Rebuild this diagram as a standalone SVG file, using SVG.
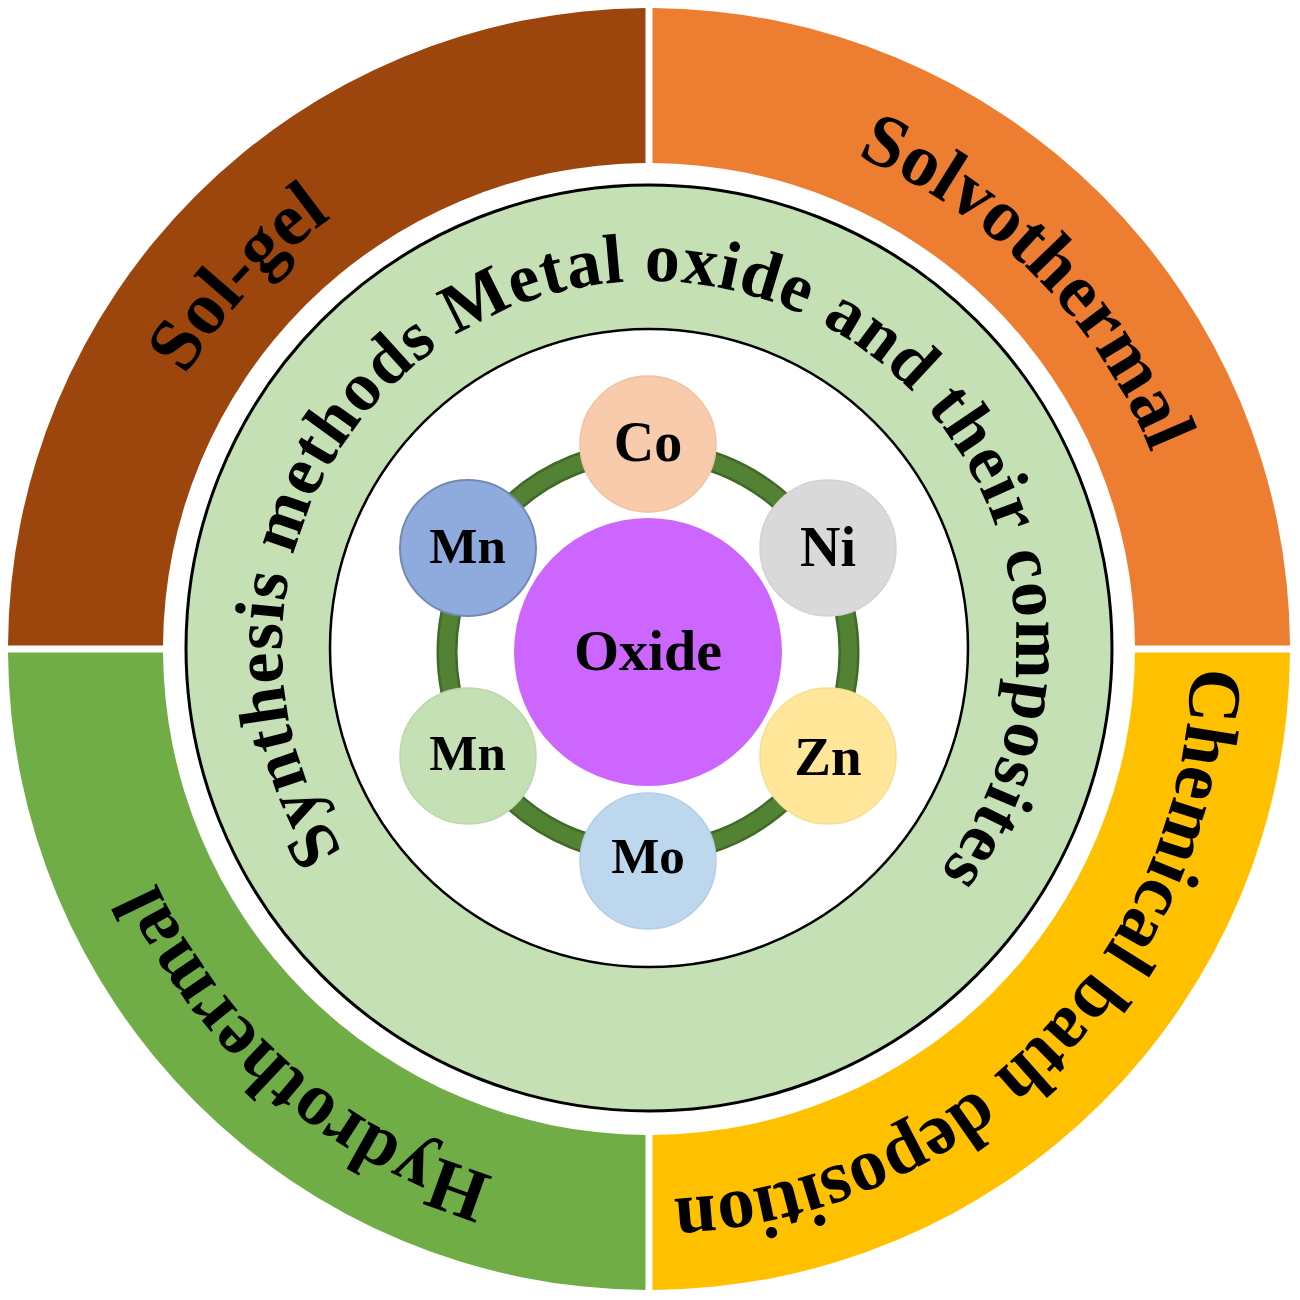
<svg xmlns="http://www.w3.org/2000/svg" xmlns:xlink="http://www.w3.org/1999/xlink" width="1300" height="1300" viewBox="0 0 1300 1300">
<style>
  .t { font-family: "Liberation Serif", "Times New Roman", serif; font-weight: bold; fill: #000; }
  .outer { font-size: 75px; }
  .inner { font-size: 70px; letter-spacing: 1.1px; }
  .lbl { text-anchor: middle; }
</style>
<defs>
  <path id="outerArc" d="M649,1199 A542,542 0 1 1 649,115 A542,542 0 1 1 649,1199"/>
  <path id="innerArc" d="M649,1015 A367,367 0 1 1 649,281 A367,367 0 1 1 649,1015"/>
</defs>
<rect width="1300" height="1300" fill="#ffffff"/>

<g id="sol-gel">
  <path d="M8,645.5 A641,641 0 0 1 645.5,8 L645.5,163 A486,486 0 0 0 163,645.5 Z" fill="#9C460D"/>
  <text class="t outer" transform="rotate(-47.3 649 657)"><textPath xlink:href="#outerArc" href="#outerArc" startOffset="50%" text-anchor="middle">Sol-gel</textPath></text>
</g>
<g id="solvothermal">
  <path d="M652.5,8 A641,641 0 0 1 1290,645.5 L1135,645.5 A486,486 0 0 0 652.5,163 Z" fill="#ED7D31"/>
  <text class="t outer" transform="rotate(45.2 649 657)"><textPath xlink:href="#outerArc" href="#outerArc" startOffset="50%" text-anchor="middle">Solvothermal</textPath></text>
</g>
<g id="chemical-bath">
  <path d="M1290,652.5 A641,641 0 0 1 652.5,1290 L652.5,1135 A486,486 0 0 0 1135,652.5 Z" fill="#FFC000"/>
  <text class="t outer" transform="rotate(134.25 649 657)"><textPath xlink:href="#outerArc" href="#outerArc" startOffset="50%" text-anchor="middle">Chemical bath deposition</textPath></text>
</g>
<g id="hydrothermal">
  <path d="M645.5,1290 A641,641 0 0 1 8,652.5 L163,652.5 A486,486 0 0 0 645.5,1135 Z" fill="#70AD47"/>
  <text class="t outer" transform="rotate(-138.95 649 657)"><textPath xlink:href="#outerArc" href="#outerArc" startOffset="50%" text-anchor="middle">Hydrothermal</textPath></text>
</g>

<g id="synthesis-ring">
  <circle cx="649" cy="648" r="463" fill="#C5E0B4" stroke="#000" stroke-width="3"/>
  <circle cx="649" cy="648" r="319" fill="#ffffff" stroke="#000" stroke-width="2.5"/>
  <text class="t inner" transform="rotate(2.05 649 648)"><textPath xlink:href="#innerArc" href="#innerArc" startOffset="50%" text-anchor="middle">Synthesis methods Metal oxide and their composites</textPath></text>
</g>

<g id="connectors">
  <circle cx="648" cy="652" r="201" fill="none" stroke="#3F6A28" stroke-width="21"/>
  <circle cx="648" cy="652" r="201" fill="none" stroke="#548235" stroke-width="16"/>
</g>

<g id="oxide">
  <circle cx="648" cy="652" r="134" fill="#CC66FF"/>
  <text class="t lbl" x="648" y="670" font-size="58">Oxide</text>
</g>
<g id="co">
  <circle cx="648" cy="444" r="68" fill="#F8CBAD" stroke="#F2C2A2" stroke-width="1.5"/>
  <text class="t lbl" x="648" y="461" font-size="56">Co</text>
</g>
<g id="ni">
  <circle cx="828" cy="548" r="68" fill="#D9D9D9" stroke="#D2D2D2" stroke-width="1.5"/>
  <text class="t lbl" x="828" y="566" font-size="56">Ni</text>
</g>
<g id="zn">
  <circle cx="828" cy="756" r="68" fill="#FFE699" stroke="#F7DD92" stroke-width="1.5"/>
  <text class="t lbl" x="828" y="775" font-size="55">Zn</text>
</g>
<g id="mo">
  <circle cx="648" cy="861" r="68" fill="#BDD7EE" stroke="#B3CDE6" stroke-width="1.5"/>
  <text class="t lbl" x="648" y="873" font-size="51">Mo</text>
</g>
<g id="mn-lower">
  <circle cx="468" cy="756" r="68" fill="#C5E0B4" stroke="#BCD8AA" stroke-width="1.5"/>
  <text class="t lbl" x="467.5" y="770" font-size="51">Mn</text>
</g>
<g id="mn-upper">
  <circle cx="468" cy="548" r="68" fill="#8FAADC" stroke="#7489B0" stroke-width="2"/>
  <text class="t lbl" x="467.5" y="563" font-size="51">Mn</text>
</g>
</svg>
